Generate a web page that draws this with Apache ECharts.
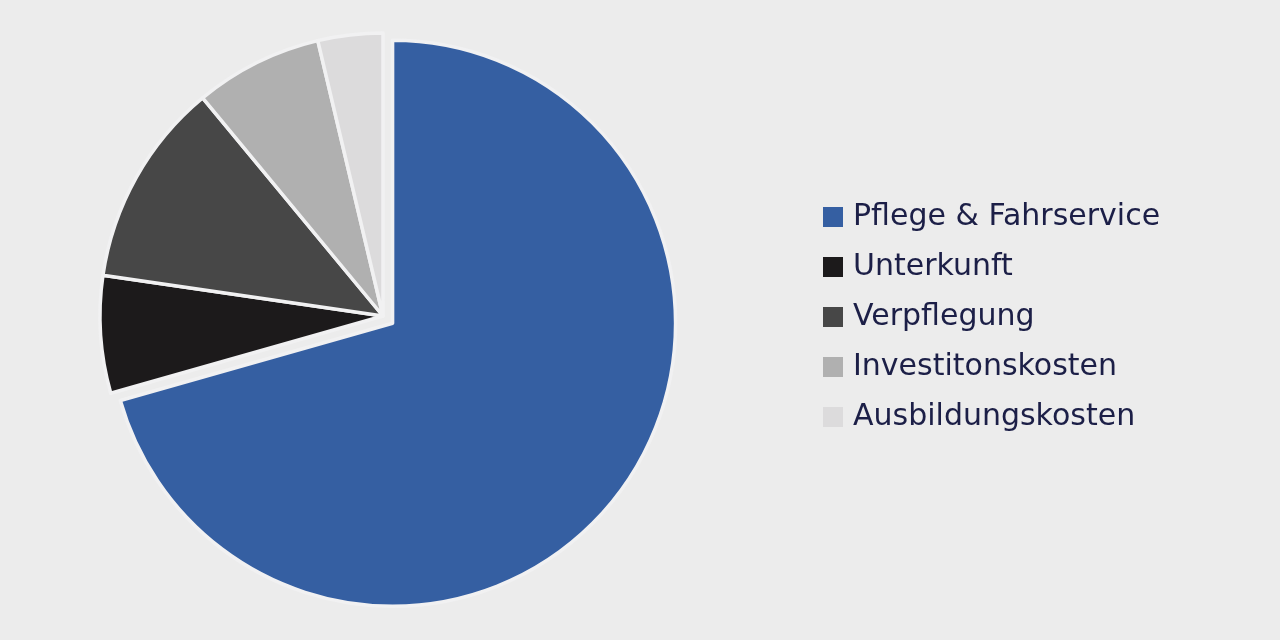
<!DOCTYPE html>
<html>
<head>
<meta charset="utf-8">
<script src="https://cdn.jsdelivr.net/npm/echarts@6/dist/echarts.min.js"></script>
<style>
html,body{margin:0;padding:0;background:#ececec;}
#main{width:1280px;height:640px;}
</style>
</head>
<body>
<div id="main"></div>
<script>
const categories = ['Pflege & Fahrservice', 'Unterkunft', 'Verpflegung', 'Investitonskosten', 'Ausbildungskosten'];
const values = [70.6, 6.7, 11.7, 7.3, 3.7];
const colors = ['#355fa2', '#1c1a1b', '#474747', '#b0b0b0', '#dcdbdc'];

const chart = echarts.init(document.getElementById('main'));
chart.setOption({
  backgroundColor: '#ececec',
  animation: false,
  color: colors,
  legend: {
    orient: 'vertical',
    left: 818,
    top: 197,
    icon: 'rect',
    itemWidth: 20,
    itemHeight: 20,
    itemGap: 20,
    itemStyle: { borderWidth: 0 },
    textStyle: {
      color: '#1c1f47',
      fontSize: 30,
      lineHeight: 30,
      fontFamily: 'DejaVu Sans',
      padding: [0, 0, 0, 5]
    },
    data: categories
  },
  series: [{
    type: 'pie',
    center: [383, 316],
    radius: [0, 283],
    startAngle: 90,
    clockwise: true,
    selectedMode: 'single',
    selectedOffset: 12,
    label: { show: false },
    labelLine: { show: false },
    emphasis: { disabled: true },
    itemStyle: { borderColor: '#f1f1f2', borderWidth: 3.5 },
    data: categories.map((n, i) => ({ name: n, value: values[i], selected: i === 0 }))
  }]
});
</script>
</body>
</html>
